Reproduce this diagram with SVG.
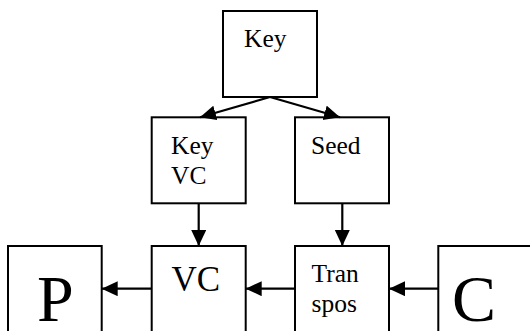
<svg xmlns="http://www.w3.org/2000/svg" width="530" height="331" viewBox="0 0 530 331">
<style>
.box{fill:#fff;stroke:#000;stroke-width:2}
.t{font-family:"Liberation Serif","Times New Roman",serif;fill:#000}
.s{font-size:25.5px}
.m{font-size:35px}
.l{font-size:66px}
.c{stroke:#000;stroke-width:2.2;fill:none;marker-end:url(#ah)}
</style>
<defs>
<marker id="ah" markerUnits="userSpaceOnUse" markerWidth="17" markerHeight="16" refX="16" refY="7.5" orient="auto">
<path d="M0,0 L16,7.5 L0,15 z" fill="#000"/>
</marker>
</defs>
<rect width="530" height="331" fill="#fff"/>
<g id="key"><rect class="box" x="223" y="11" width="94" height="86"/><text class="t s" x="244" y="46.5">Key</text></g>
<g id="keyvc"><rect class="box" x="151.7" y="117.3" width="94" height="86"/><text class="t s" x="171" y="154">Key</text><text class="t s" x="171" y="184.3">VC</text></g>
<g id="seed"><rect class="box" x="295" y="117.3" width="94" height="86"/><text class="t s" x="311" y="154">Seed</text></g>
<g id="p"><rect class="box" x="8" y="246" width="93.7" height="100"/><text class="t l" x="37" y="321">P</text></g>
<g id="vc"><rect class="box" x="151.7" y="246" width="94" height="100"/><text class="t m" x="171.5" y="290.5">VC</text></g>
<g id="transpos"><rect class="box" x="295" y="246" width="94" height="100"/><text class="t s" x="311.5" y="281.7">Tran</text><text class="t s" x="311.5" y="311.7">spos</text></g>
<g id="c"><rect class="box" x="438.3" y="246" width="100" height="100"/><text class="t l" x="452" y="321">C</text></g>
<g id="connectors">
<line class="c" x1="270" y1="97" x2="200" y2="117.3"/>
<line class="c" x1="270" y1="97" x2="340" y2="117.3"/>
<line class="c" x1="198.7" y1="203.3" x2="198.7" y2="246"/>
<line class="c" x1="342.3" y1="203.3" x2="342.3" y2="246"/>
<line class="c" x1="151.7" y1="288.7" x2="101.7" y2="288.7"/>
<line class="c" x1="295" y1="288.7" x2="245.7" y2="288.7"/>
<line class="c" x1="438.3" y1="288.7" x2="389" y2="288.7"/>
</g>
</svg>
